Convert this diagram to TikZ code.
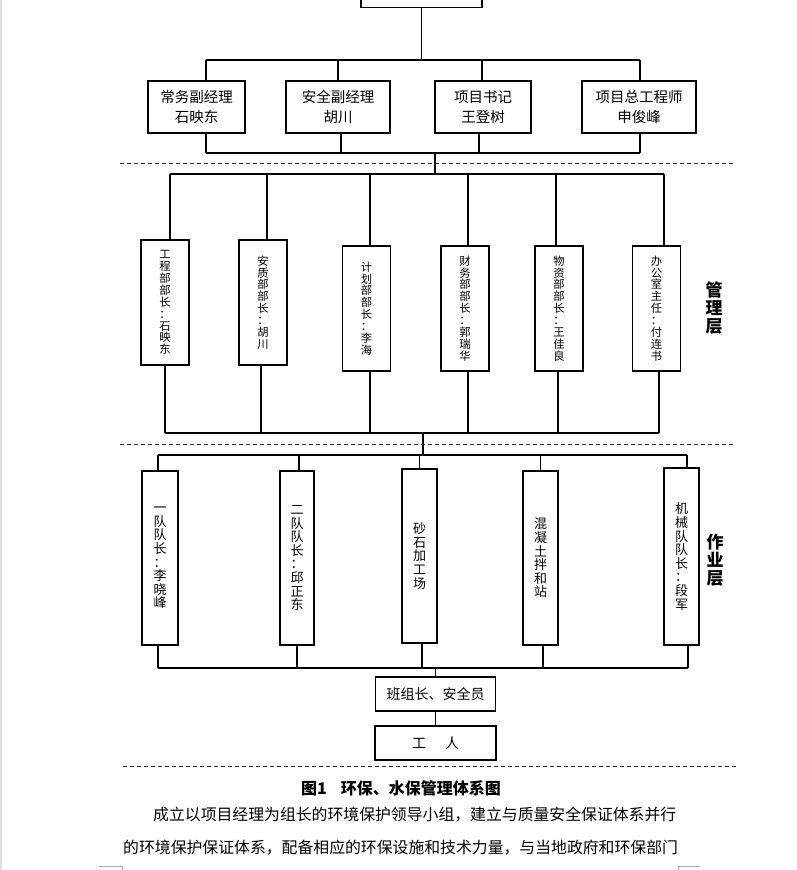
\documentclass[tikz,border=0pt]{standalone}
\usepackage{fontspec}
\setmainfont{Noto Sans CJK SC}
\begin{document}
\begin{tikzpicture}[x=1pt,y=-1pt,
  box/.style={draw, line width=1.8pt, inner sep=0pt, align=center},
  conn/.style={line width=1.8pt},
  sep/.style={line width=0.9pt, dash pattern=on 4pt off 3pt, draw=black!85},
  htxt/.style={box, font=\fontsize{14.5}{20}\selectfont},
  vt/.style={box, minimum width=48pt, minimum height=125pt, font=\fontsize{11.3}{11.9}\selectfont},
  wt/.style={box, minimum width=35pt, minimum height=174pt, font=\fontsize{13}{13.6}\selectfont},
  lab/.style={font=\bfseries\fontsize{17}{18}\selectfont, align=center, inner sep=0pt},
  cornermark/.style={line width=0.8pt, draw=black!35}]
\useasboundingbox (0,0) rectangle (796,870);
\clip (0,0) rectangle (796,870);
\fill[black!12] (0,0) rectangle (2,870);
% top box
\node[box, minimum width=121pt, minimum height=40pt] (pm) at (421.5,-12.5) {};
% first layer
\node[htxt, minimum width=97pt, minimum height=52pt] (a1) at (196.5,107) {常务副经理\\石映东};
\node[htxt, minimum width=104pt, minimum height=52pt] (a2) at (338,107) {安全副经理\\胡川};
\node[htxt, minimum width=96pt, minimum height=52pt] (a3) at (483,107) {项目书记\\王登树};
\node[htxt, minimum width=114pt, minimum height=52pt] (a4) at (639,107) {项目总工程师\\申俊峰};
\coordinate (b1l) at (206,60);
\coordinate (b1r) at (640,60);
\coordinate (b2l) at (206,153);
\coordinate (b2r) at (640,153);
\draw[conn] (pm.south) -- (pm.south |- b1l);
\draw[conn] (b1l) -- (b1r);
\draw[conn] (a1.north -| b1l) -- (b1l);
\draw[conn] (a2.north) -- (a2.north |- b1l);
\draw[conn] ([xshift=-1pt]a3.north) -- ([xshift=-1pt]a3.north |- b1l);
\draw[conn] (a4.north -| b1r) -- (b1r);
\draw[conn] (b2l) -- (b2r);
\draw[conn] (a1.south -| b2l) -- (b2l);
\draw[conn] ([xshift=3pt]a2.south) -- ([xshift=3pt]a2.south |- b2l);
\draw[conn] ([xshift=-4pt]a3.south) -- ([xshift=-4pt]a3.south |- b2l);
\draw[conn] (a4.south -| b2r) -- (b2r);
\coordinate (c2) at (435,153);
\coordinate (c3) at (435,174);
\draw[conn] (c2) -- (c3);
\draw[sep] (120,163) -- (735,163);
% management layer
\node[vt, minimum height=125pt] (m1) at (165,302.5) {工\\程\\部\\部\\长\\：\\石\\映\\东};
\node[vt, minimum height=125pt] (m2) at (263,302.5) {安\\质\\部\\部\\长\\：\\胡\\川};
\node[vt] (m3) at (366.5,308.5) {计\\划\\部\\部\\长\\：\\李\\海};
\node[vt] (m4) at (465,308.5) {财\\务\\部\\部\\长\\：\\郭\\瑞\\华};
\node[vt] (m5) at (559,308.5) {物\\资\\部\\部\\长\\：\\王\\佳\\良};
\node[vt] (m6) at (656.5,308.5) {办\\公\\室\\主\\任\\：\\付\\连\\书};
\coordinate (b3l) at (170,174);
\coordinate (b3r) at (664,174);
\draw[conn] (b3l) -- (b3r);
\draw[conn] ([xshift=5pt]m1.north) -- ([xshift=5pt]m1.north |- b3l);
\draw[conn] ([xshift=4pt]m2.north) -- ([xshift=4pt]m2.north |- b3l);
\draw[conn] ([xshift=3.5pt]m3.north) -- ([xshift=3.5pt]m3.north |- b3l);
\draw[conn] ([xshift=3pt]m4.north) -- ([xshift=3pt]m4.north |- b3l);
\draw[conn] ([xshift=-3pt]m5.north) -- ([xshift=-3pt]m5.north |- b3l);
\draw[conn] ([xshift=7.5pt]m6.north) -- ([xshift=7.5pt]m6.north |- b3l);
\coordinate (b4l) at (165,433);
\coordinate (b4r) at (659,433);
\draw[conn] (b4l) -- (b4r);
\draw[conn] (m1.south) -- (m1.south |- b4l);
\draw[conn] ([xshift=-2pt]m2.south) -- ([xshift=-2pt]m2.south |- b4l);
\draw[conn] ([xshift=3.5pt]m3.south) -- ([xshift=3.5pt]m3.south |- b4l);
\draw[conn] ([xshift=3pt]m4.south) -- ([xshift=3pt]m4.south |- b4l);
\draw[conn] ([xshift=-1pt]m5.south) -- ([xshift=-1pt]m5.south |- b4l);
\draw[conn] ([xshift=2.5pt]m6.south) -- ([xshift=2.5pt]m6.south |- b4l);
\coordinate (c4) at (423,433);
\coordinate (c5) at (423,455);
\draw[conn] (c4) -- (c5);
\draw[sep] (120,444) -- (735,444);
\node[lab] (l1) at (714,308) {管\\理\\层};
% work layer
\node[wt, minimum width=36pt] (w1) at (160,558) {一\\队\\队\\长\\：\\李\\晓\\峰};
\node[wt, minimum width=34pt] (w2) at (297,558) {二\\队\\队\\长\\：\\邱\\正\\东};
\node[wt] (w3) at (419.5,556) {砂\\石\\加\\工\\场};
\node[wt] (w4) at (540.5,558) {混\\凝\\土\\拌\\和\\站};
\node[wt, minimum height=177pt] (w5) at (681.5,556.5) {机\\械\\队\\队\\长\\：\\段\\军};
\coordinate (b5l) at (158,455);
\coordinate (b5r) at (687,455);
\draw[conn] (b5l) -- (b5r);
\draw[conn] (w1.north -| b5l) -- (b5l);
\draw[conn] ([xshift=2pt]w2.north) -- ([xshift=2pt]w2.north |- b5l);
\draw[conn] (w3.north) -- (w3.north |- b5l);
\draw[conn] (w4.north) -- (w4.north |- b5l);
\draw[conn] (w5.north -| b5r) -- (b5r);
\coordinate (b6l) at (158,668);
\coordinate (b6r) at (688,668);
\draw[conn] (b6l) -- (b6r);
\draw[conn] (w1.south -| b6l) -- (b6l);
\draw[conn] (w2.south) -- (w2.south |- b6l);
\draw[conn] ([xshift=2.5pt]w3.south) -- ([xshift=2.5pt]w3.south |- b6l);
\draw[conn] ([xshift=2.5pt]w4.south) -- ([xshift=2.5pt]w4.south |- b6l);
\draw[conn] (w5.south -| b6r) -- (b6r);
\node[lab] (l2) at (715,560) {作\\业\\层};
% bottom boxes
\node[htxt, font=\fontsize{14}{16}\selectfont, minimum width=120pt, minimum height=34pt] (c1) at (435.5,694) {班组长、安全员};
\node[htxt, font=\fontsize{14}{16}\selectfont, minimum width=121pt, minimum height=34pt] (cw) at (435.5,743) {工\hspace{19pt}人};
\draw[conn] (c1.north) -- (c1.north |- b6l);
\draw[conn] (c1.south) -- (cw.north);
\draw[sep] (123,766) -- (737,766);
% caption and paragraph
\node[font=\bfseries\fontsize{16}{18}\selectfont, inner sep=0pt] (cap) at (401,788) {图1\hspace{14pt}环保、水保管理体系图};
\node[font=\fontsize{15.85}{18}\selectfont, inner sep=0pt, anchor=west] (p1) at (153,815) {成立以项目经理为组长的环境保护领导小组，建立与质量安全保证体系并行};
\node[font=\fontsize{15.85}{18}\selectfont, inner sep=0pt, anchor=west] (p2) at (123,848) {的环境保护保证体系，配备相应的环保设施和技术力量，与当地政府和环保部门};
% page corner marks
\draw[cornermark] (99,866) -- (122,866) -- (122,872);
\draw[cornermark] (700,866) -- (678,866) -- (678,872);
\end{tikzpicture}
\end{document}
